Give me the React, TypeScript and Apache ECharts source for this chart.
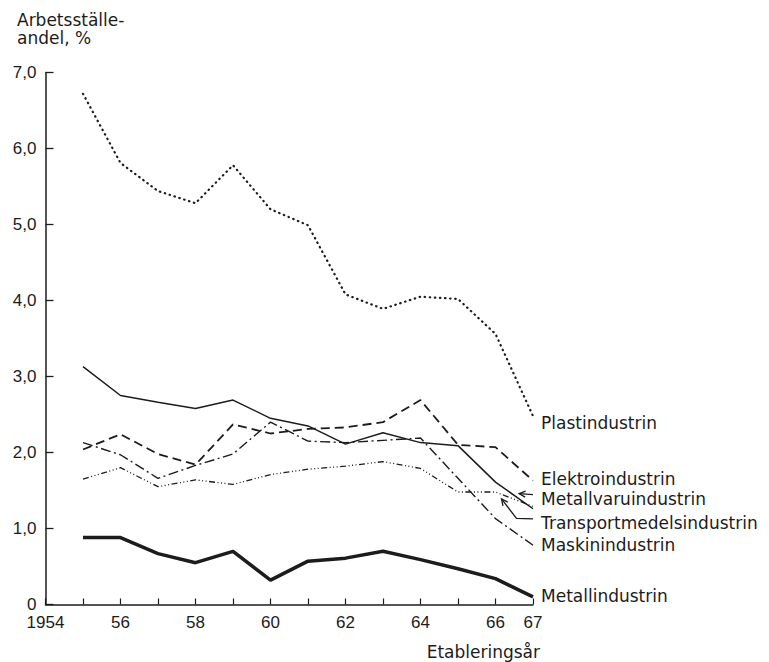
import React, { useEffect, useRef } from "react";
import * as echarts from "echarts";

const years = [1955, 1956, 1957, 1958, 1959, 1960, 1961, 1962, 1963, 1964, 1965, 1966, 1967];
const plast = [6.72, 5.81, 5.44, 5.28, 5.78, 5.2, 4.99, 4.08, 3.89, 4.05, 4.02, 3.56, 2.48];
const elektro = [2.04, 2.24, 1.98, 1.84, 2.37, 2.25, 2.31, 2.33, 2.4, 2.69, 2.1, 2.07, 1.63];
const metallvaru = [3.13, 2.75, 2.66, 2.58, 2.69, 2.45, 2.35, 2.11, 2.26, 2.13, 2.09, 1.61, 1.26];
const transport = [1.65, 1.8, 1.55, 1.64, 1.58, 1.71, 1.78, 1.82, 1.88, 1.79, 1.48, 1.48, 1.29];
const maskin = [2.13, 1.97, 1.66, 1.83, 1.98, 2.4, 2.15, 2.13, 2.16, 2.19, 1.66, 1.13, 0.78];
const metall = [0.88, 0.88, 0.67, 0.55, 0.7, 0.32, 0.57, 0.61, 0.7, 0.59, 0.47, 0.34, 0.1];

const seriesNames = [
  "Plastindustrin",
  "Elektroindustrin",
  "Metallvaruindustrin",
  "Transportmedelsindustrin",
  "Maskinindustrin",
  "Metallindustrin",
];

const INK = "#1c1c1c";
const FONT = "DejaVu Sans";
const TICK_FONT = "Liberation Sans";

const xLabel = (v: number) => {
  if (v === 1954) return "1954";
  if (v === 1967) return "67";
  if (v % 2 === 0) return String(v - 1900);
  return "";
};
const yLabel = (v: number) => (v === 0 ? "0" : v.toFixed(1).replace(".", ","));

export default function App() {
  const ref = useRef<HTMLDivElement>(null);
  useEffect(() => {
    if (!ref.current) return;
    const chart = echarts.init(ref.current, undefined, { renderer: "svg" });
    const mk = (
      name: string,
      vals: number[],
      lineStyle: any,
      labelOffset: [number, number]
    ) => ({
      name,
      type: "line",
      data: years.map((y, i) => [y, vals[i]]),
      showSymbol: false,
      symbol: "none",
      lineStyle: { color: INK, ...lineStyle },
      endLabel: {
        show: true,
        formatter: name,
        color: INK,
        fontFamily: FONT,
        fontSize: 17,
        distance: 8,
        offset: labelOffset,
      },
      silent: true,
    });
    chart.setOption({
      animation: false,
      backgroundColor: "#ffffff",
      title: {
        text: "Arbetsställe-\nandel, %",
        left: 12,
        top: 6,
        textStyle: {
          color: INK,
          fontFamily: FONT,
          fontSize: 17,
          fontWeight: "normal",
          lineHeight: 18,
        },
      },
      grid: { left: 45.5, top: 72.5, width: 487.5, height: 532 },
      xAxis: {
        type: "value",
        min: 1954,
        max: 1967,
        interval: 1,
        axisLine: { show: true, lineStyle: { color: INK, width: 1.5 } },
        axisTick: { show: true, inside: true, length: 6, lineStyle: { color: INK, width: 1.2 } },
        axisLabel: {
          formatter: xLabel,
          color: INK,
          fontFamily: TICK_FONT,
          fontSize: 17,
          margin: 9,
          showMinLabel: true,
          showMaxLabel: true,
        },
        splitLine: { show: false },
      },
      yAxis: {
        type: "value",
        min: 0,
        max: 7,
        interval: 1,
        axisLine: { show: true, lineStyle: { color: INK, width: 1.5 } },
        axisTick: { show: true, inside: true, length: 8, lineStyle: { color: INK, width: 1.3 } },
        axisLabel: {
          formatter: yLabel,
          color: INK,
          fontFamily: TICK_FONT,
          fontSize: 17,
          margin: 9,
        },
        splitLine: { show: false },
      },
      series: [
        mk(seriesNames[0], plast, { width: 2.2, type: [0.5, 4.6], cap: "round" }, [0, 7]),
        mk(seriesNames[1], elektro, { width: 1.8, type: [9, 5] }, [0, -2]),
        mk(seriesNames[2], metallvaru, { width: 1.5, type: "solid" }, [0, -10]),
        mk(seriesNames[3], transport, { width: 1.3, type: [6, 2.5, 1, 2.5, 1, 2.5, 1, 2.5] }, [0, 17]),
        mk(seriesNames[4], maskin, { width: 1.4, type: [10, 3.5, 2, 3.5] }, [0, 0]),
        mk(seriesNames[5], metall, { width: 3.5, type: "solid" }, [0, -1]),
      ],
    });

    const px = (x: number, y: number) => chart.convertToPixel({ gridIndex: 0 }, [x, y]) as number[];
    const head = (from: number[], to: number[]) => {
      const dx = to[0] - from[0];
      const dy = to[1] - from[1];
      const l = Math.hypot(dx, dy);
      const ux = dx / l;
      const uy = dy / l;
      const a = 0.45;
      const L = 7;
      const r = (s: number) => [
        to[0] - L * (ux * Math.cos(s * a) - uy * Math.sin(s * a)),
        to[1] - L * (ux * Math.sin(s * a) + uy * Math.cos(s * a)),
      ];
      return [r(1), to, r(-1)];
    };
    const mvPts = [px(1967.0, 1.445), px(1966.63, 1.46)];
    const trPts = [px(1967.0, 1.126), px(1966.56, 1.134), px(1966.16, 1.389)];
    const ls = { stroke: INK, lineWidth: 1.3, fill: null };
    chart.setOption({
      graphic: [
        { type: "polyline", shape: { points: mvPts }, style: ls, silent: true },
        { type: "polyline", shape: { points: head(mvPts[0], mvPts[1]) }, style: ls, silent: true },
        { type: "polyline", shape: { points: trPts }, style: ls, silent: true },
        { type: "polyline", shape: { points: head(trPts[1], trPts[2]) }, style: ls, silent: true },
        {
          type: "text",
          right: 769 - 540,
          top: 643,
          style: {
            text: "Etableringsår",
            fill: INK,
            font: `17px "${FONT}"`,
          },
          silent: true,
        },
      ],
    });
    return () => chart.dispose();
  }, []);
  return (
    <div
      ref={ref}
      style={{ position: "absolute", left: 0, top: 0, width: 769, height: 662, background: "#fff" }}
    />
  );
}
